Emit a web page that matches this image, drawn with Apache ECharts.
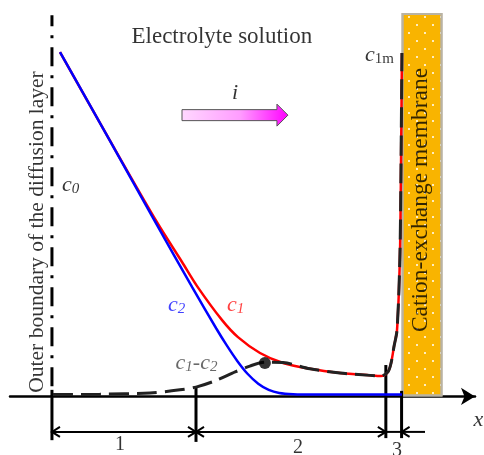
<!DOCTYPE html>
<html>
<head>
	<meta charset="utf-8" />
	<title>Concentration profiles near a cation-exchange membrane</title>
	<script src="https://cdn.jsdelivr.net/npm/echarts@6/dist/echarts.min.js"></script>
	<style>
		html, body {margin:0;padding:0;background:#fff;}
		#chart {width:484px;height:455px;}
	</style>
</head>
<body>
	<div id="chart"></div>

	<script>
		// x : distance from the outer boundary of the diffusion layer (membrane surface = 1)
		// y : concentration, normalised (value at the outer boundary = 1)
		var c1Data = [
			[0.023, 0.999], [0.166, 0.742], [0.300, 0.506], [0.372, 0.390], [0.415, 0.320],
			[0.486, 0.222], [0.532, 0.172], [0.595, 0.126], [0.661, 0.097], [0.738, 0.080],
			[0.824, 0.068], [0.910, 0.061], [0.941, 0.059], [0.961, 0.071], [0.970, 0.097],
			[0.978, 0.143], [0.987, 0.193], [0.995, 0.396], [0.998, 0.628], [1.001, 0.996]
		];
		var c2Data = [
			[0.023, 0.999], [0.166, 0.741], [0.289, 0.518], [0.401, 0.317], [0.470, 0.197],
			[0.500, 0.148], [0.530, 0.103], [0.560, 0.065], [0.590, 0.037], [0.620, 0.019],
			[0.650, 0.010], [0.690, 0.0065], [0.750, 0.0055], [1.001, 0.0055]
		];
		var diffData = [
			[0.003, 0.0055], [0.137, 0.0064], [0.280, 0.010], [0.366, 0.019], [0.412, 0.027],
			[0.466, 0.045], [0.524, 0.071], [0.566, 0.088], [0.609, 0.099], [0.661, 0.098],
			[0.738, 0.080], [0.824, 0.068], [0.910, 0.061], [0.941, 0.059], [0.961, 0.071],
			[0.970, 0.097], [0.978, 0.143], [0.987, 0.193], [0.995, 0.396], [0.998, 0.628], [1.001, 0.996]
		];
		var markPoint = [[0.609, 0.097]];

		// region boundaries 1 | 2 | 3 and the membrane
		var boundaryX   = [0, 0.412, 0.955, 1.0];
		var tickTop     = [0.019, 0.028, 0.091, 0.016];
		var tickBottom  = [-0.127, -0.132, -0.121, -0.121];
		var dimY        = -0.103;
		// [from, to, y, arrows] arrows: 0 none, 1 at "to", 2 both ends
		var dimSegments = [[0, 0.412, dimY, 2], [0.412, 0.955, dimY, 2], [0.955, 1.0, dimY, 0], [1.067, 1.0, dimY, 1]];
		var boundaryLine = [[0, 1.106], [0, 0]];
		var membrane    = [[1.0585, 1.112]];
		var currentArrow = [[0.372, 0.675, 0.816]];

		var annotations = [
			{text: 'Electrolyte solution', at: [0.486, 1.043]},
			{text: '{ci|i}', at: [0.5235, 0.879]},
			{text: '{c|c}{s|0}', at: [0.0533, 0.612]},
			{text: '{c|c}{m|1m}', at: [0.937, 0.989]},
			{text: '{c|c}{s|2}', at: [0.3566, 0.264], color: '#1010ff'},
			{text: '{c|c}{s|1}', at: [0.5253, 0.264], color: '#ff1010'},
			{text: '{c|c}{s|1}{c|-}{c|c}{s|2}', at: [0.4135, 0.0957], color: '#444'},
			{text: '{ci|x}', at: [1.220, -0.0696]},
			{text: '1', at: [0.1947, -0.141]},
			{text: '2', at: [0.7037, -0.148]},
			{text: '3', at: [0.987, -0.157]},
			{text: 'Outer boundary of the diffusion layer', at: [-0.0428, 0.477], rotate: 90, size: 21.5},
			{text: 'Cation-exchange membrane', at: [1.0556, 0.570], rotate: 90, size: 23.5}
		];

		var FONT = 'Liberation Serif';
		var chart = echarts.init(document.getElementById('chart'), null, {renderer: 'canvas'});

		function renderArrow(params, api) {
			var a = api.coord([api.value(0), api.value(2)]);
			var b = api.coord([api.value(1), api.value(2)]);
			var hb = 5.5, hh = 11, hl = 11, y = a[1];
			return {
				type: 'polygon',
				shape: {points: [[a[0], y - hb], [b[0] - hl, y - hb], [b[0] - hl, y - hh], [b[0], y],
					[b[0] - hl, y + hh], [b[0] - hl, y + hb], [a[0], y + hb]]},
				style: {
					fill: new echarts.graphic.LinearGradient(0, 0, 1, 0, [
						{offset: 0, color: '#ffd8ff'}, {offset: 0.55, color: '#ff9cff'}, {offset: 1, color: '#ff00ff'}
					]),
					stroke: '#555', lineWidth: 1
				}
			};
		}

		function renderDim(params, api) {
			var p1 = api.coord([api.value(0), api.value(2)]);
			var p2 = api.coord([api.value(1), api.value(2)]);
			var mode = api.value(3);
			var dir = p2[0] > p1[0] ? 1 : -1;
			var st = {stroke: '#000', lineWidth: 2, fill: null};
			var kids = [{type: 'line', shape: {x1: p1[0], y1: p1[1], x2: p2[0], y2: p2[1]}, style: st}];
			function head(p, d) {
				return {type: 'polyline', shape: {points: [[p[0] - d * 8, p[1] - 5], [p[0], p[1]], [p[0] - d * 8, p[1] + 5]]}, style: st};
			}
			if (mode >= 1) kids.push(head(p2, dir));
			if (mode >= 2) kids.push(head(p1, -dir));
			return {type: 'group', children: kids};
		}

		function renderTick(params, api) {
			var a = api.coord([api.value(0), api.value(1)]);
			var b = api.coord([api.value(0), api.value(2)]);
			return {type: 'line', shape: {x1: a[0], y1: a[1], x2: b[0], y2: b[1]}, style: {stroke: '#000', lineWidth: 3}};
		}

		var rich = {
			c:  {fontFamily: FONT, fontStyle: 'italic', fontSize: 22, lineHeight: 22, verticalAlign: 'bottom'},
			ci: {fontFamily: FONT, fontStyle: 'italic', fontSize: 22, lineHeight: 22, verticalAlign: 'bottom'},
			s:  {fontFamily: FONT, fontStyle: 'italic', fontSize: 15, lineHeight: 8, verticalAlign: 'bottom'},
			m:  {fontFamily: FONT, fontSize: 15, lineHeight: 12, verticalAlign: 'bottom'}
		};

		var option = {
			animation: false,
			grid: {left: 10, right: 9, top: 0, bottom: 0},
			xAxis: {
				type: 'value', min: -0.12, max: 1.21,
				axisLine: {onZero: true, symbol: ['none', 'arrow'], symbolSize: [13, 14], lineStyle: {color: '#000', width: 2.5}},
				axisTick: {show: false}, axisLabel: {show: false}, splitLine: {show: false}
			},
			yAxis: {
				type: 'value', min: -0.17, max: 1.15, show: false,
				axisLine: {show: false}, splitLine: {show: false}
			},
			series: [
				{
					type: 'bar', data: membrane, barWidth: 41, silent: true, z: 1,
					itemStyle: {
						color: '#f9b400', borderColor: '#b9b3a3', borderWidth: 2,
						decal: {symbol: 'circle', symbolSize: 1, color: '#ffffff', dashArrayX: [[2, 14], [0, 8, 2, 6]], dashArrayY: [2, 6], rotation: 0}
					}
				},
				{
					type: 'line', data: boundaryLine, symbol: 'none', silent: true, z: 2,
					lineStyle: {color: '#000', width: 3, type: [19, 9, 3, 9], dashOffset: 8}
				},
				{type: 'custom', renderItem: renderTick, silent: true, z: 3,
					data: boundaryX.map(function (x, i) { return [x, tickTop[i], tickBottom[i]]; })},
				{type: 'custom', renderItem: renderDim, silent: true, z: 3, data: dimSegments},
				{type: 'custom', renderItem: renderArrow, silent: true, z: 3, data: currentArrow},
				{
					name: 'c1', type: 'line', data: c1Data, symbol: 'none', smooth: 0.3, silent: true, z: 4,
					lineStyle: {color: '#ff0000', width: 2.5}
				},
				{
					name: 'c2', type: 'line', data: c2Data, symbol: 'none', smooth: 0.3, silent: true, z: 5,
					lineStyle: {color: '#0000ff', width: 2.5}
				},
				{
					name: 'c1-c2', type: 'line', data: diffData, symbol: 'none', smooth: 0.3, silent: true, z: 6,
					lineStyle: {color: '#222', width: 3, type: [20, 8]}
				},
				{
					type: 'scatter', data: markPoint, symbol: 'circle', symbolSize: 12, silent: true, z: 7,
					itemStyle: {color: '#000'}
				},
				{
					type: 'scatter', silent: true, clip: false, z: 8, symbolSize: 1,
					itemStyle: {color: 'rgba(0,0,0,0)'},
					label: {show: true, position: 'inside', fontFamily: FONT, fontSize: 23, color: '#000', rich: rich},
					data: annotations.map(function (a) {
						return {
							value: a.at,
							label: {
								formatter: a.text,
								color: a.color || '#000',
								rotate: a.rotate || 0,
								fontSize: a.size || (/^\d$/.test(a.text) ? 20 : 23)
							}
						};
					})
				}
			]
		};

		chart.setOption(option);
	</script>
</body>
</html>
